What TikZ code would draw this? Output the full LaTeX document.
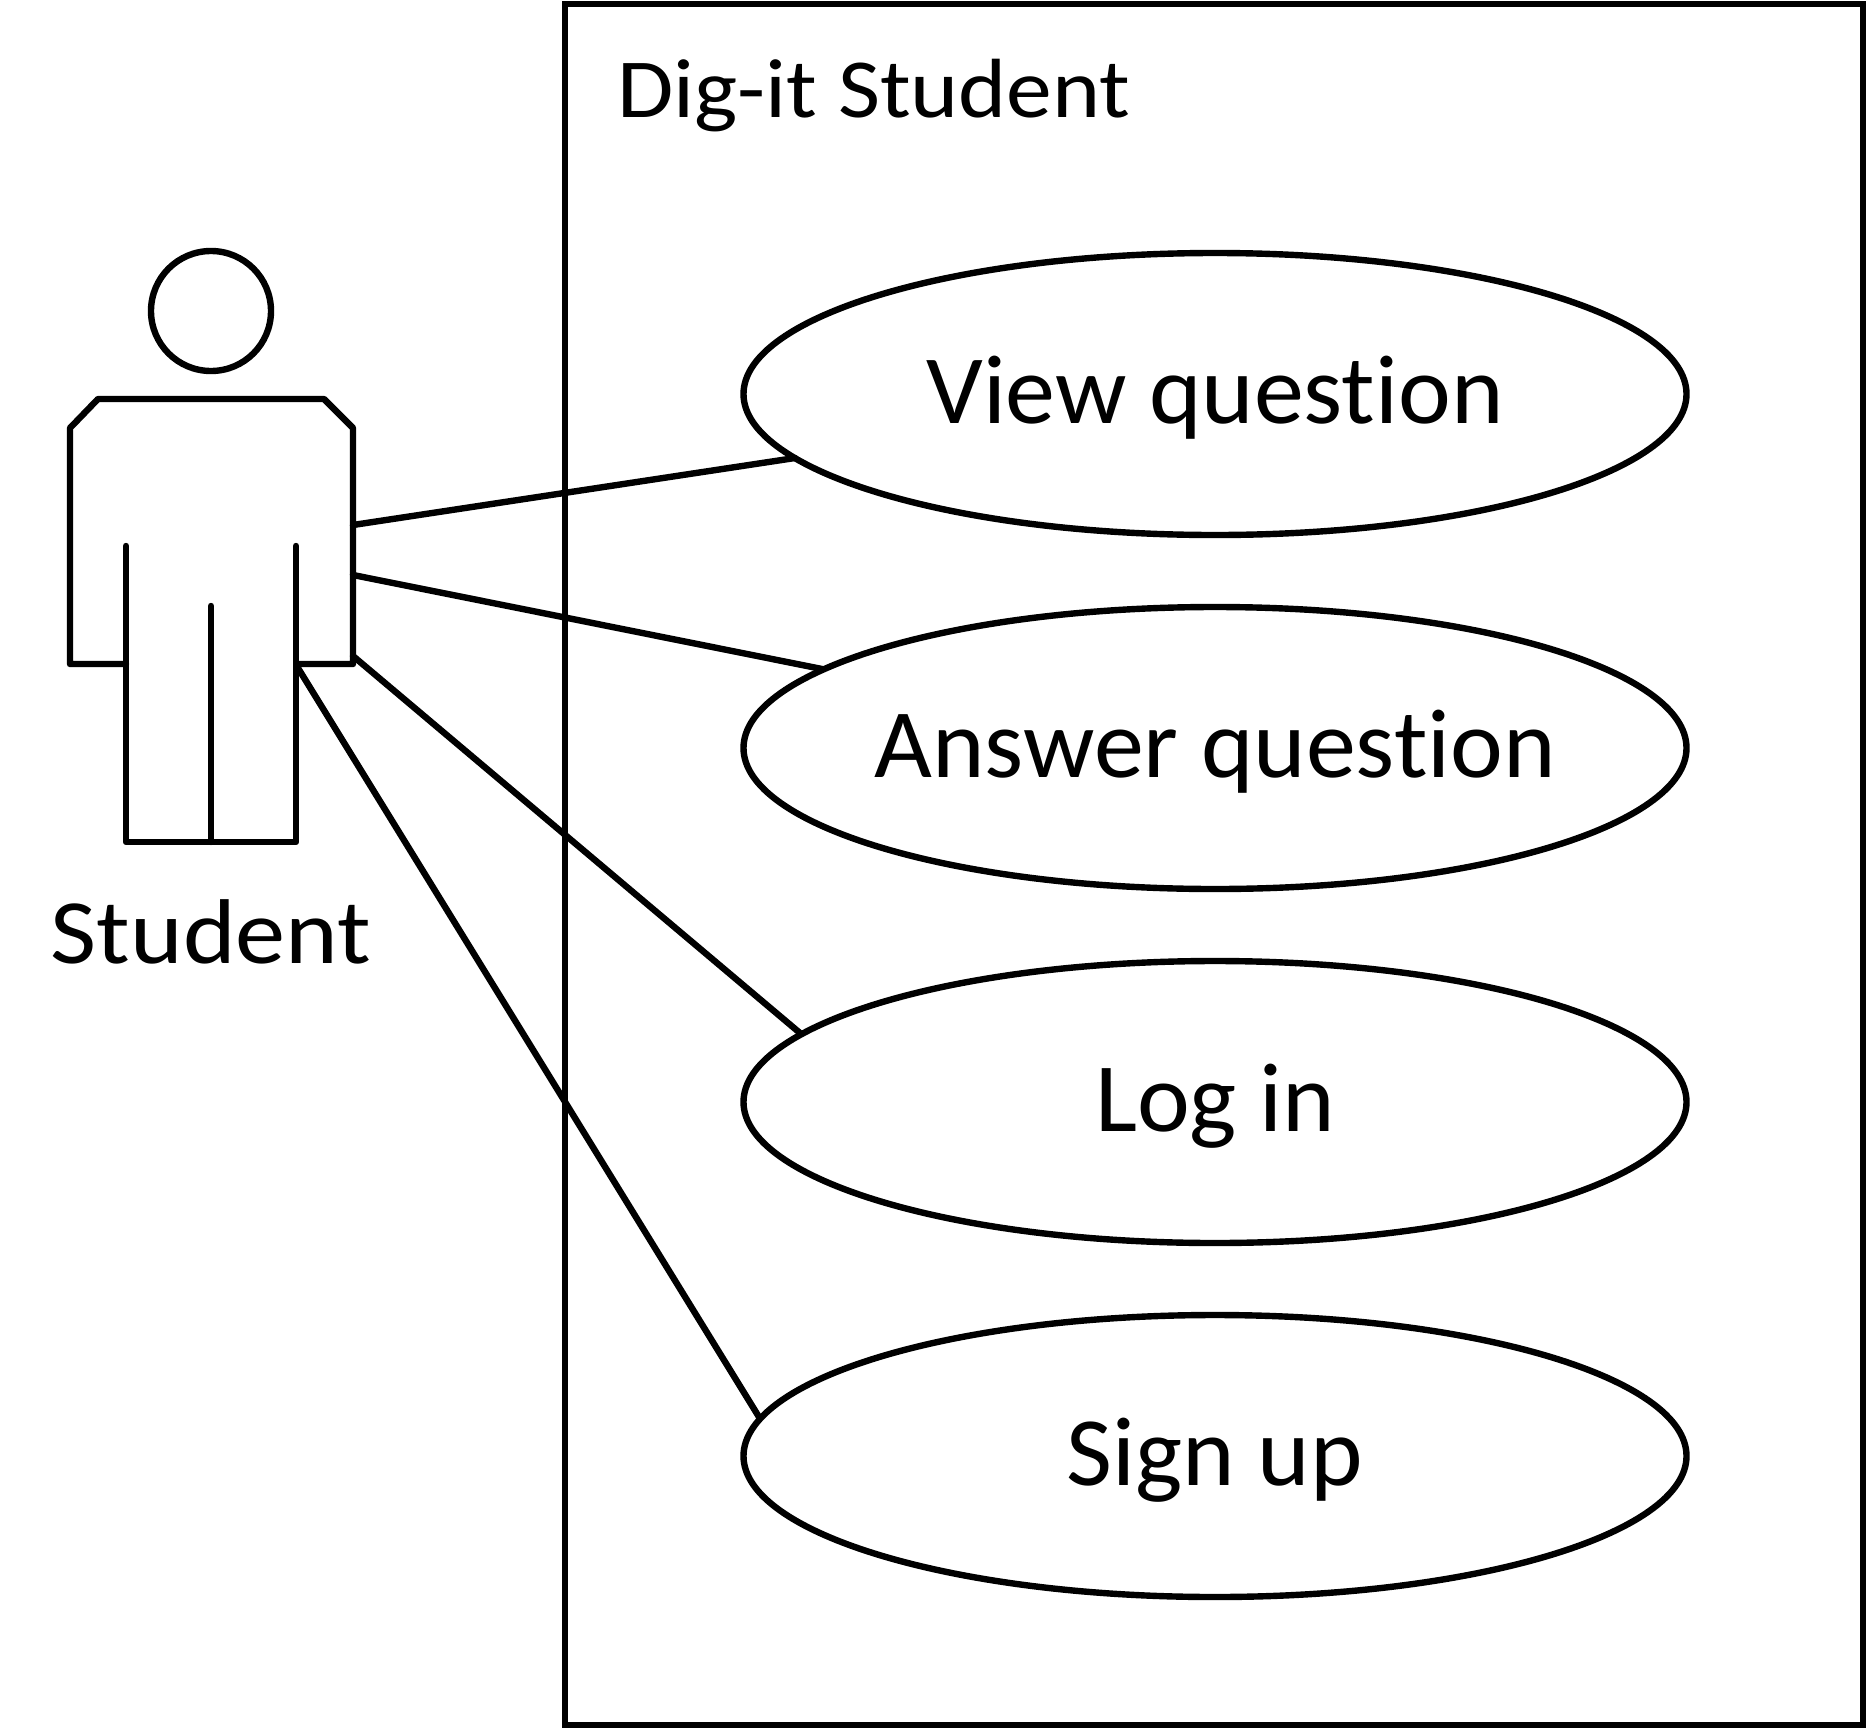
\documentclass[tikz,border=0pt]{standalone}
\usepackage{fontspec}
\usetikzlibrary{shapes.geometric}
\setmainfont[Ligatures=NoCommon,Contextuals=NoAlternate]{Carlito}
\newfontfamily\wideuc[FakeStretch=1.02,Ligatures=NoCommon]{Carlito}
\newfontfamily\widelbl[FakeStretch=1.09,Ligatures=NoCommon]{Carlito}
\newcommand{\uctext}[1]{\makebox[0pt]{\raisebox{-14.5pt}[0pt][0pt]{#1}}}
\tikzset{
  x=0.5pt,y=-0.5pt,
  ln/.style={draw=black,line width=3.2pt,line join=round,line cap=round},
  usecase/.style={ellipse,ln,minimum width=471.5pt,minimum height=141pt,inner sep=0pt,font=\wideuc\fontsize{49}{58}\selectfont},
  lbl/.style={inner sep=0pt,font=\widelbl\fontsize{42}{50}\selectfont}
}
\begin{document}
\begin{tikzpicture}
\useasboundingbox (0,0) rectangle (1867,1729);
\node[draw=black,line width=3.2pt,outer sep=0pt,minimum width=649pt,minimum height=860.5pt,inner sep=0pt,anchor=north west] (sys) at (565,4) {};
\node[lbl,anchor=base west] (title) at (617,117) {Dig-it Student};
\node[usecase] (view) at (1215,394) {\uctext{View question}};
\node[usecase] (answer) at (1215,748) {\uctext{Answer question}};
\node[usecase] (login) at (1215,1102) {\uctext{Log in}};
\node[usecase] (signup) at (1215,1456) {\uctext{Sign up}};
\node[circle,ln,minimum size=60pt,inner sep=0pt] (head) at (211,311) {};
\draw[ln] (126,664) -- (70,664) -- (70,428) -- (98,399) -- (324,399) -- (353,428) -- (353,664) -- (297,664);
\draw[ln] (126,546) -- (126,842) -- (296,842) -- (296,546);
\draw[ln] (211,606) -- (211,842);
\node[lbl,font=\widelbl\fontsize{46}{54}\selectfont,anchor=base] (student) at (211,963) {Student};
\coordinate (a1) at (353,525);
\coordinate (a2) at (353,575);
\coordinate (a3) at (353,656);
\coordinate (a4) at (298,668);
\coordinate (e1) at (795,458);
\coordinate (e2) at (822,669);
\coordinate (e3) at (800,1033);
\coordinate (e4) at (759,1417);
\draw[ln] (a1) -- (e1);
\draw[ln] (a2) -- (e2);
\draw[ln] (a3) -- (e3);
\draw[ln] (a4) -- (e4);
\end{tikzpicture}
\end{document}
